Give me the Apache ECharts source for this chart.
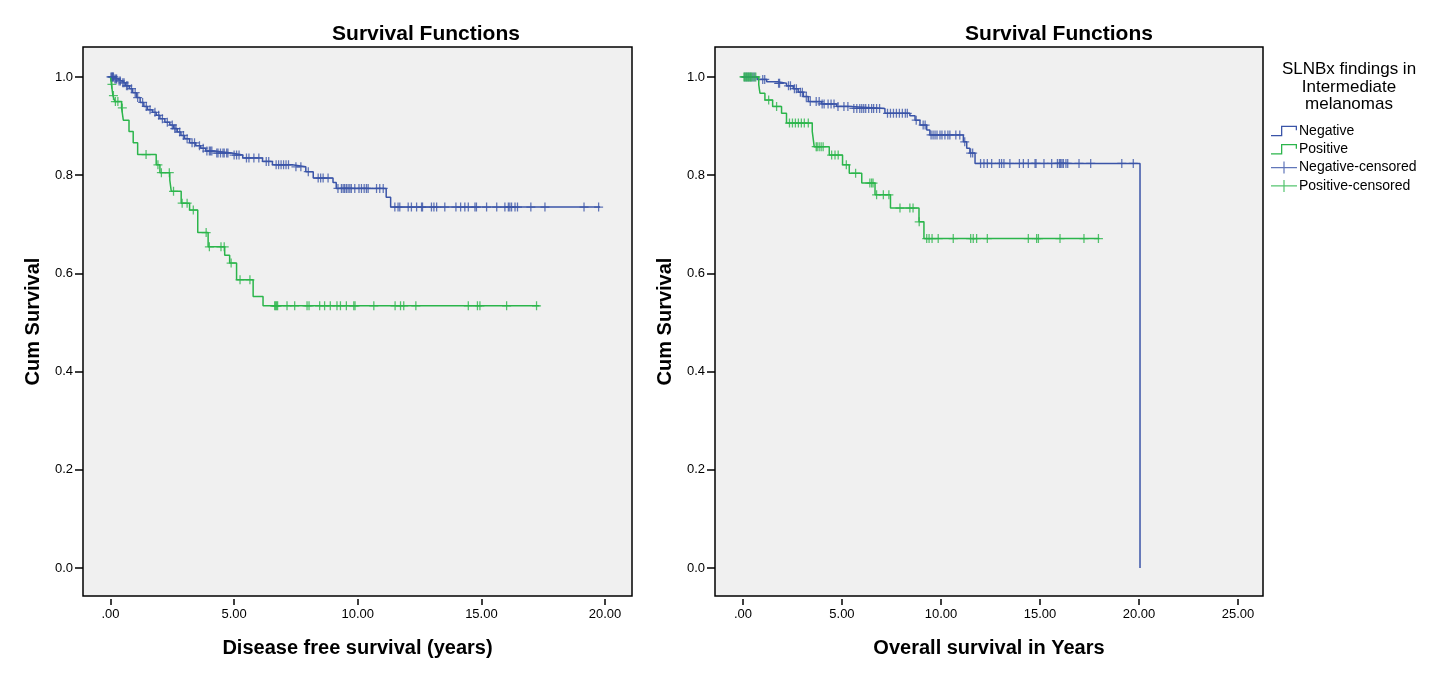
<!DOCTYPE html>
<html>
<head>
<meta charset="utf-8">
<script src="https://cdn.jsdelivr.net/npm/echarts@6/dist/echarts.min.js"></script>
<style>
html,body{margin:0;padding:0;background:#fff;}
#c{width:1440px;height:680px;}
</style>
</head>
<body>
<div id="c"></div>
<script>
// ---------- DATA ----------
const seriesNames = ['Negative', 'Positive', 'Negative-censored', 'Positive-censored'];
const legendTitle = 'SLNBx findings in\nIntermediate\nmelanomas';
const chartTitles = ['Survival Functions', 'Survival Functions'];
const xTitles = ['Disease free survival (years)', 'Overall survival in Years'];
const yTitle = 'Cum Survival';
const xTicksLeft = [0, 5, 10, 15, 20];
const xTicksRight = [0, 5, 10, 15, 20, 25];
const yTicks = [0, 0.2, 0.4, 0.6, 0.8, 1.0];

// Disease free survival – Negative: [time, survival after event]
const dfsNegSteps = [[0,1.0],[0.15,0.996],[0.3,0.992],[0.45,0.988],[0.6,0.982],[0.77,0.976],[0.9,0.968],[1.05,0.958],[1.2,0.948],[1.35,0.940],[1.5,0.933],[1.7,0.928],[1.85,0.922],[2.0,0.915],[2.2,0.908],[2.4,0.902],[2.55,0.895],[2.7,0.888],[2.85,0.881],[3.0,0.874],[3.2,0.866],[3.45,0.860],[3.65,0.855],[3.85,0.849],[4.2,0.845],[4.9,0.841],[5.35,0.835],[6.15,0.828],[6.55,0.821],[7.35,0.817],[7.9,0.807],[8.2,0.794],[9.0,0.785],[9.13,0.773],[11.15,0.755],[11.33,0.735]];
const dfsNegEnd = 19.8;
const dfsNegCensor = [0.02,0.05,0.08,0.1,0.12,0.18,0.22,0.25,0.35,0.4,0.5,0.55,0.65,0.7,0.85,1.0,1.1,1.3,1.45,1.6,1.8,1.95,2.1,2.3,2.5,2.6,2.65,2.8,2.95,3.1,3.3,3.4,3.6,3.75,3.9,4.0,4.05,4.1,4.3,4.35,4.45,4.55,4.6,4.7,4.75,5.0,5.1,5.2,5.5,5.6,5.8,6.0,6.3,6.4,6.7,6.8,6.9,7.0,7.1,7.2,7.5,7.7,8.0,8.4,8.5,8.6,8.8,9.2,9.34,9.41,9.47,9.54,9.61,9.68,9.74,9.88,10.05,10.15,10.26,10.35,10.42,10.76,10.89,11.03,11.5,11.63,11.7,12.04,12.17,12.38,12.58,12.62,12.98,13.08,13.19,13.52,13.97,14.16,14.33,14.47,14.74,14.8,15.21,15.62,15.95,16.09,16.15,16.22,16.36,16.46,17.0,17.57,19.15,19.74];

// Disease free survival – Positive
const dfsPosSteps = [[0,1.0],[0.04,0.985],[0.1,0.962],[0.18,0.950],[0.45,0.937],[0.52,0.912],[0.75,0.889],[0.92,0.866],[1.1,0.842],[1.85,0.821],[2.0,0.805],[2.4,0.790],[2.46,0.767],[2.86,0.743],[3.2,0.729],[3.53,0.683],[3.95,0.654],[4.62,0.637],[4.82,0.621],[5.1,0.587],[5.77,0.553],[6.17,0.534]];
const dfsPosEnd = 17.35;
const dfsPosCensor = [0.06,0.12,0.2,0.3,0.48,1.44,1.92,2.06,2.38,2.55,2.9,3.1,3.35,3.87,4.0,4.47,4.6,4.88,5.24,5.64,6.64,6.68,6.72,6.76,7.14,7.45,7.95,8.03,8.46,8.66,8.89,9.16,9.3,9.54,9.84,9.89,10.65,11.51,11.73,11.86,12.35,14.47,14.84,14.94,16.02,17.23];

// Overall survival – Negative
const osNegSteps = [[0,1.0],[0.72,0.995],[1.2,0.99],[1.75,0.987],[2.2,0.982],[2.54,0.976],[2.79,0.969],[3.05,0.96],[3.3,0.95],[3.97,0.945],[4.73,0.94],[5.4,0.936],[7.17,0.926],[8.43,0.921],[8.69,0.912],[8.94,0.902],[9.28,0.892],[9.44,0.882],[11.13,0.868],[11.3,0.855],[11.46,0.845],[11.72,0.824],[20.05,0.0]];
const osNegEnd = 20.05;
const osNegCensor = [0.1,0.2,0.3,0.4,0.5,0.6,1.0,1.1,1.8,1.85,2.3,2.4,2.6,2.7,2.9,3.0,3.2,3.4,3.7,3.85,4.0,4.1,4.3,4.45,4.6,4.8,5.1,5.3,5.6,5.75,5.9,6.0,6.1,6.2,6.35,6.5,6.6,6.75,6.9,7.3,7.45,7.6,7.75,7.9,8.05,8.2,8.3,8.75,9.1,9.2,9.5,9.6,9.7,9.8,9.95,10.05,10.2,10.35,10.45,10.75,10.95,11.2,11.5,11.6,12.0,12.17,12.34,12.56,12.95,13.06,13.18,13.48,13.96,14.16,14.41,14.75,14.8,15.2,15.59,15.88,15.98,16.04,16.11,16.18,16.31,16.4,16.97,17.56,19.13,19.71];

// Overall survival – Positive
const osPosSteps = [[0,1.0],[0.8,0.984],[0.86,0.967],[1.11,0.953],[1.5,0.94],[1.95,0.926],[2.2,0.906],[3.5,0.889],[3.6,0.858],[4.36,0.841],[5.03,0.821],[5.37,0.804],[6.0,0.784],[6.67,0.760],[7.45,0.733],[8.89,0.705],[9.14,0.671]];
const osPosEnd = 18.0;
const osPosCensor = [0.05,0.1,0.15,0.2,0.25,0.3,0.35,0.4,0.45,0.55,0.65,1.3,1.7,2.35,2.5,2.65,2.8,2.95,3.1,3.3,3.7,3.75,3.85,3.95,4.05,4.48,4.65,4.81,5.22,5.69,6.41,6.5,6.57,6.75,7.09,7.37,7.93,8.43,8.59,8.9,9.28,9.4,9.55,9.86,10.62,11.5,11.63,11.8,12.34,14.41,14.83,14.92,16.01,17.22,17.95];

// ---------- BUILD ----------
const blue = '#3a54a8';
const green = '#2bb54b';
const FONT = 'Liberation Sans, Arial, sans-serif';
const plusSym = 'path://M4.3,0H5.7V10H4.3Z M0,4.3H10V5.7H0Z';
const stepIcon = 'path://M0,9.8H9.4V1.2H24.4V5.5H23.2V2.4H10.6V11H0Z';
const censIcon = 'path://M0,5.4H26V6.6H0Z M12.4,0H13.6V12H12.4Z';

function survAt(steps, t) {
  let s = steps[0][1];
  for (const [ti, si] of steps) { if (ti <= t) s = si; }
  return s;
}
function lineData(steps, end) {
  const d = steps.map(p => [p[0], p[1]]);
  const last = steps[steps.length - 1];
  if (end > last[0]) d.push([end, last[1]]);
  return d;
}
function censData(steps, times) {
  return times.map(t => [t, survAt(steps, t)]);
}

function xAxis(idx, min, max, ticks, name) {
  return {
    type: 'value', gridIndex: idx, min: min, max: max, position: 'bottom',
    offset: 3,
    name: name, nameLocation: 'middle', nameGap: 39,
    nameTextStyle: { fontFamily: FONT, fontSize: 20, fontWeight: 'bold', color: '#000' },
    axisLine: { show: false, onZero: false },
    axisTick: { show: true, customValues: ticks, length: 6, lineStyle: { color: '#000', width: 1.5 } },
    axisLabel: { customValues: ticks, margin: 9, fontFamily: FONT, fontSize: 13, color: '#000',
      formatter: v => (v === 0 ? '.00' : v.toFixed(2)) },
    splitLine: { show: false }
  };
}
function yAxis(idx) {
  return {
    type: 'value', gridIndex: idx, min: -0.057, max: 1.061, position: 'left',
    name: yTitle, nameLocation: 'middle', nameGap: 40, nameRotate: 90,
    nameTextStyle: { fontFamily: FONT, fontSize: 20, fontWeight: 'bold', color: '#000' },
    axisLine: { show: false, onZero: false },
    axisTick: { show: true, customValues: yTicks, length: 8, lineStyle: { color: '#000', width: 1.5 } },
    axisLabel: { customValues: yTicks, margin: 10, fontFamily: FONT, fontSize: 13, color: '#000',
      formatter: v => v.toFixed(1) },
    splitLine: { show: false }
  };
}
function lineSeries(name, idx, data, color) {
  return { name: name, type: 'line', xAxisIndex: idx, yAxisIndex: idx, data: data,
    step: 'end', showSymbol: false, symbol: 'none', silent: true, animation: false,
    itemStyle: { color: color }, lineStyle: { color: color, width: 1.5 } };
}
function censSeries(name, idx, data, color) {
  return { name: name, type: 'scatter', xAxisIndex: idx, yAxisIndex: idx, data: data,
    symbol: plusSym, symbolSize: 9, silent: true, animation: false,
    itemStyle: { color: color } };
}

const option = {
  backgroundColor: '#fff',
  animation: false,
  title: [
    { text: chartTitles[0], left: 421, top: 19, textAlign: 'center',
      textStyle: { fontFamily: FONT, fontSize: 21, fontWeight: 'bold', color: '#000' } },
    { text: chartTitles[1], left: 1054, top: 19, textAlign: 'center',
      textStyle: { fontFamily: FONT, fontSize: 21, fontWeight: 'bold', color: '#000' } },
    { text: legendTitle, left: 1344, top: 56, textAlign: 'center',
      textStyle: { fontFamily: FONT, fontSize: 17, fontWeight: 'normal', color: '#000', lineHeight: 17.5 } }
  ],
  legend: {
    orient: 'vertical', left: 1266, top: 119, itemGap: 4.3, itemWidth: 26, itemHeight: 12,
    selectedMode: false,
    textStyle: { fontFamily: FONT, fontSize: 14, color: '#000', padding: [0, 0, 0, -3] },
    data: [
      { name: seriesNames[0], icon: stepIcon, itemStyle: { color: blue } },
      { name: seriesNames[1], icon: stepIcon, itemStyle: { color: green } },
      { name: seriesNames[2], icon: censIcon, itemStyle: { color: blue } },
      { name: seriesNames[3], icon: censIcon, itemStyle: { color: green } }
    ]
  },
  grid: [
    { left: 83, top: 47, width: 549, height: 549, show: true, backgroundColor: '#f0f0f0', borderColor: '#000', borderWidth: 1.5 },
    { left: 715, top: 47, width: 548, height: 549, show: true, backgroundColor: '#f0f0f0', borderColor: '#000', borderWidth: 1.5 }
  ],
  xAxis: [
    xAxis(0, -1.11, 21.09, xTicksLeft, xTitles[0]),
    xAxis(1, -1.41, 26.26, xTicksRight, xTitles[1])
  ],
  yAxis: [ yAxis(0), yAxis(1) ],
  series: [
    lineSeries(seriesNames[1], 0, lineData(dfsPosSteps, dfsPosEnd), green),
    censSeries(seriesNames[3], 0, censData(dfsPosSteps, dfsPosCensor), green),
    lineSeries(seriesNames[0], 0, lineData(dfsNegSteps, dfsNegEnd), blue),
    censSeries(seriesNames[2], 0, censData(dfsNegSteps, dfsNegCensor), blue),
    lineSeries(seriesNames[0], 1, lineData(osNegSteps, osNegEnd), blue),
    censSeries(seriesNames[2], 1, censData(osNegSteps, osNegCensor), blue),
    lineSeries(seriesNames[1], 1, lineData(osPosSteps, osPosEnd), green),
    censSeries(seriesNames[3], 1, censData(osPosSteps, osPosCensor), green)
  ]
};

const chart = echarts.init(document.getElementById('c'), null, { renderer: 'canvas' });
chart.setOption(option);
</script>
</body>
</html>
